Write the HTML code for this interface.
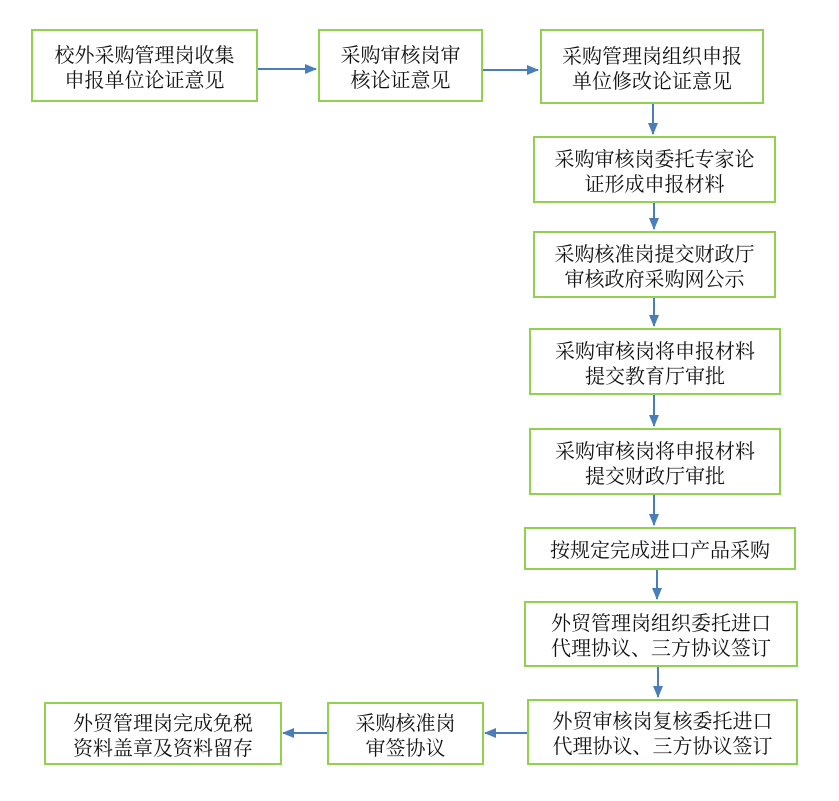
<!DOCTYPE html>
<html><head><meta charset="utf-8"><style>
body{margin:0;width:839px;height:801px;background:#fff;position:relative;overflow:hidden}
.b{position:absolute;box-sizing:border-box;border:2px solid #92d050;background:#fff;display:flex;align-items:center;justify-content:center;text-align:center;font-family:"Noto Serif CJK SC","WenQuanYi Zen Hei",serif;font-size:20px;line-height:25px;color:#111}
svg{position:absolute;left:0;top:0}
</style></head><body>
<svg width="839" height="801">
<defs><marker id="a" markerWidth="12" markerHeight="10" refX="11" refY="5" orient="auto" markerUnits="userSpaceOnUse"><path d="M0,0 L12,5 L0,10 z" fill="#4a7ebb"/></marker></defs>
<g stroke="#4a7ebb" stroke-width="2" fill="none" marker-end="url(#a)">
<line x1="257" y1="69" x2="316" y2="69"/>
<line x1="483" y1="70" x2="538" y2="70"/>
<line x1="653" y1="103" x2="653" y2="134"/>
<line x1="654" y1="202" x2="654" y2="229"/>
<line x1="654" y1="297" x2="654" y2="326"/>
<line x1="654" y1="394" x2="654" y2="426"/>
<line x1="654" y1="494" x2="654" y2="525"/>
<line x1="657" y1="569" x2="657" y2="599"/>
<line x1="658" y1="666" x2="658" y2="697"/>
<line x1="527" y1="733" x2="485" y2="733"/>
<line x1="327" y1="733" x2="283" y2="733"/>
</g></svg>
<div class="b" style="left:31px;top:29px;width:227px;height:73px">校外采购管理岗收集<br>申报单位论证意见</div>
<div class="b" style="left:318px;top:29px;width:165px;height:73px">采购审核岗审<br>核论证意见</div>
<div class="b" style="left:540px;top:29px;width:224px;height:75px">采购管理岗组织申报<br>单位修改论证意见</div>
<div class="b" style="left:533px;top:136px;width:243px;height:67px">采购审核岗委托专家论<br>证形成申报材料</div>
<div class="b" style="left:533px;top:231px;width:243px;height:67px">采购核准岗提交财政厅<br>审核政府采购网公示</div>
<div class="b" style="left:529px;top:328px;width:252px;height:67px">采购审核岗将申报材料<br>提交教育厅审批</div>
<div class="b" style="left:529px;top:428px;width:252px;height:67px">采购审核岗将申报材料<br>提交财政厅审批</div>
<div class="b" style="left:524px;top:527px;width:272px;height:43px">按规定完成进口产品采购</div>
<div class="b" style="left:524px;top:601px;width:274px;height:66px">外贸管理岗组织委托进口<br>代理协议、三方协议签订</div>
<div class="b" style="left:527px;top:699px;width:271px;height:66px">外贸审核岗复核委托进口<br>代理协议、三方协议签订</div>
<div class="b" style="left:327px;top:702px;width:157px;height:63px">采购核准岗<br>审签协议</div>
<div class="b" style="left:44px;top:702px;width:238px;height:63px">外贸管理岗完成免税<br>资料盖章及资料留存</div>
</body></html>
